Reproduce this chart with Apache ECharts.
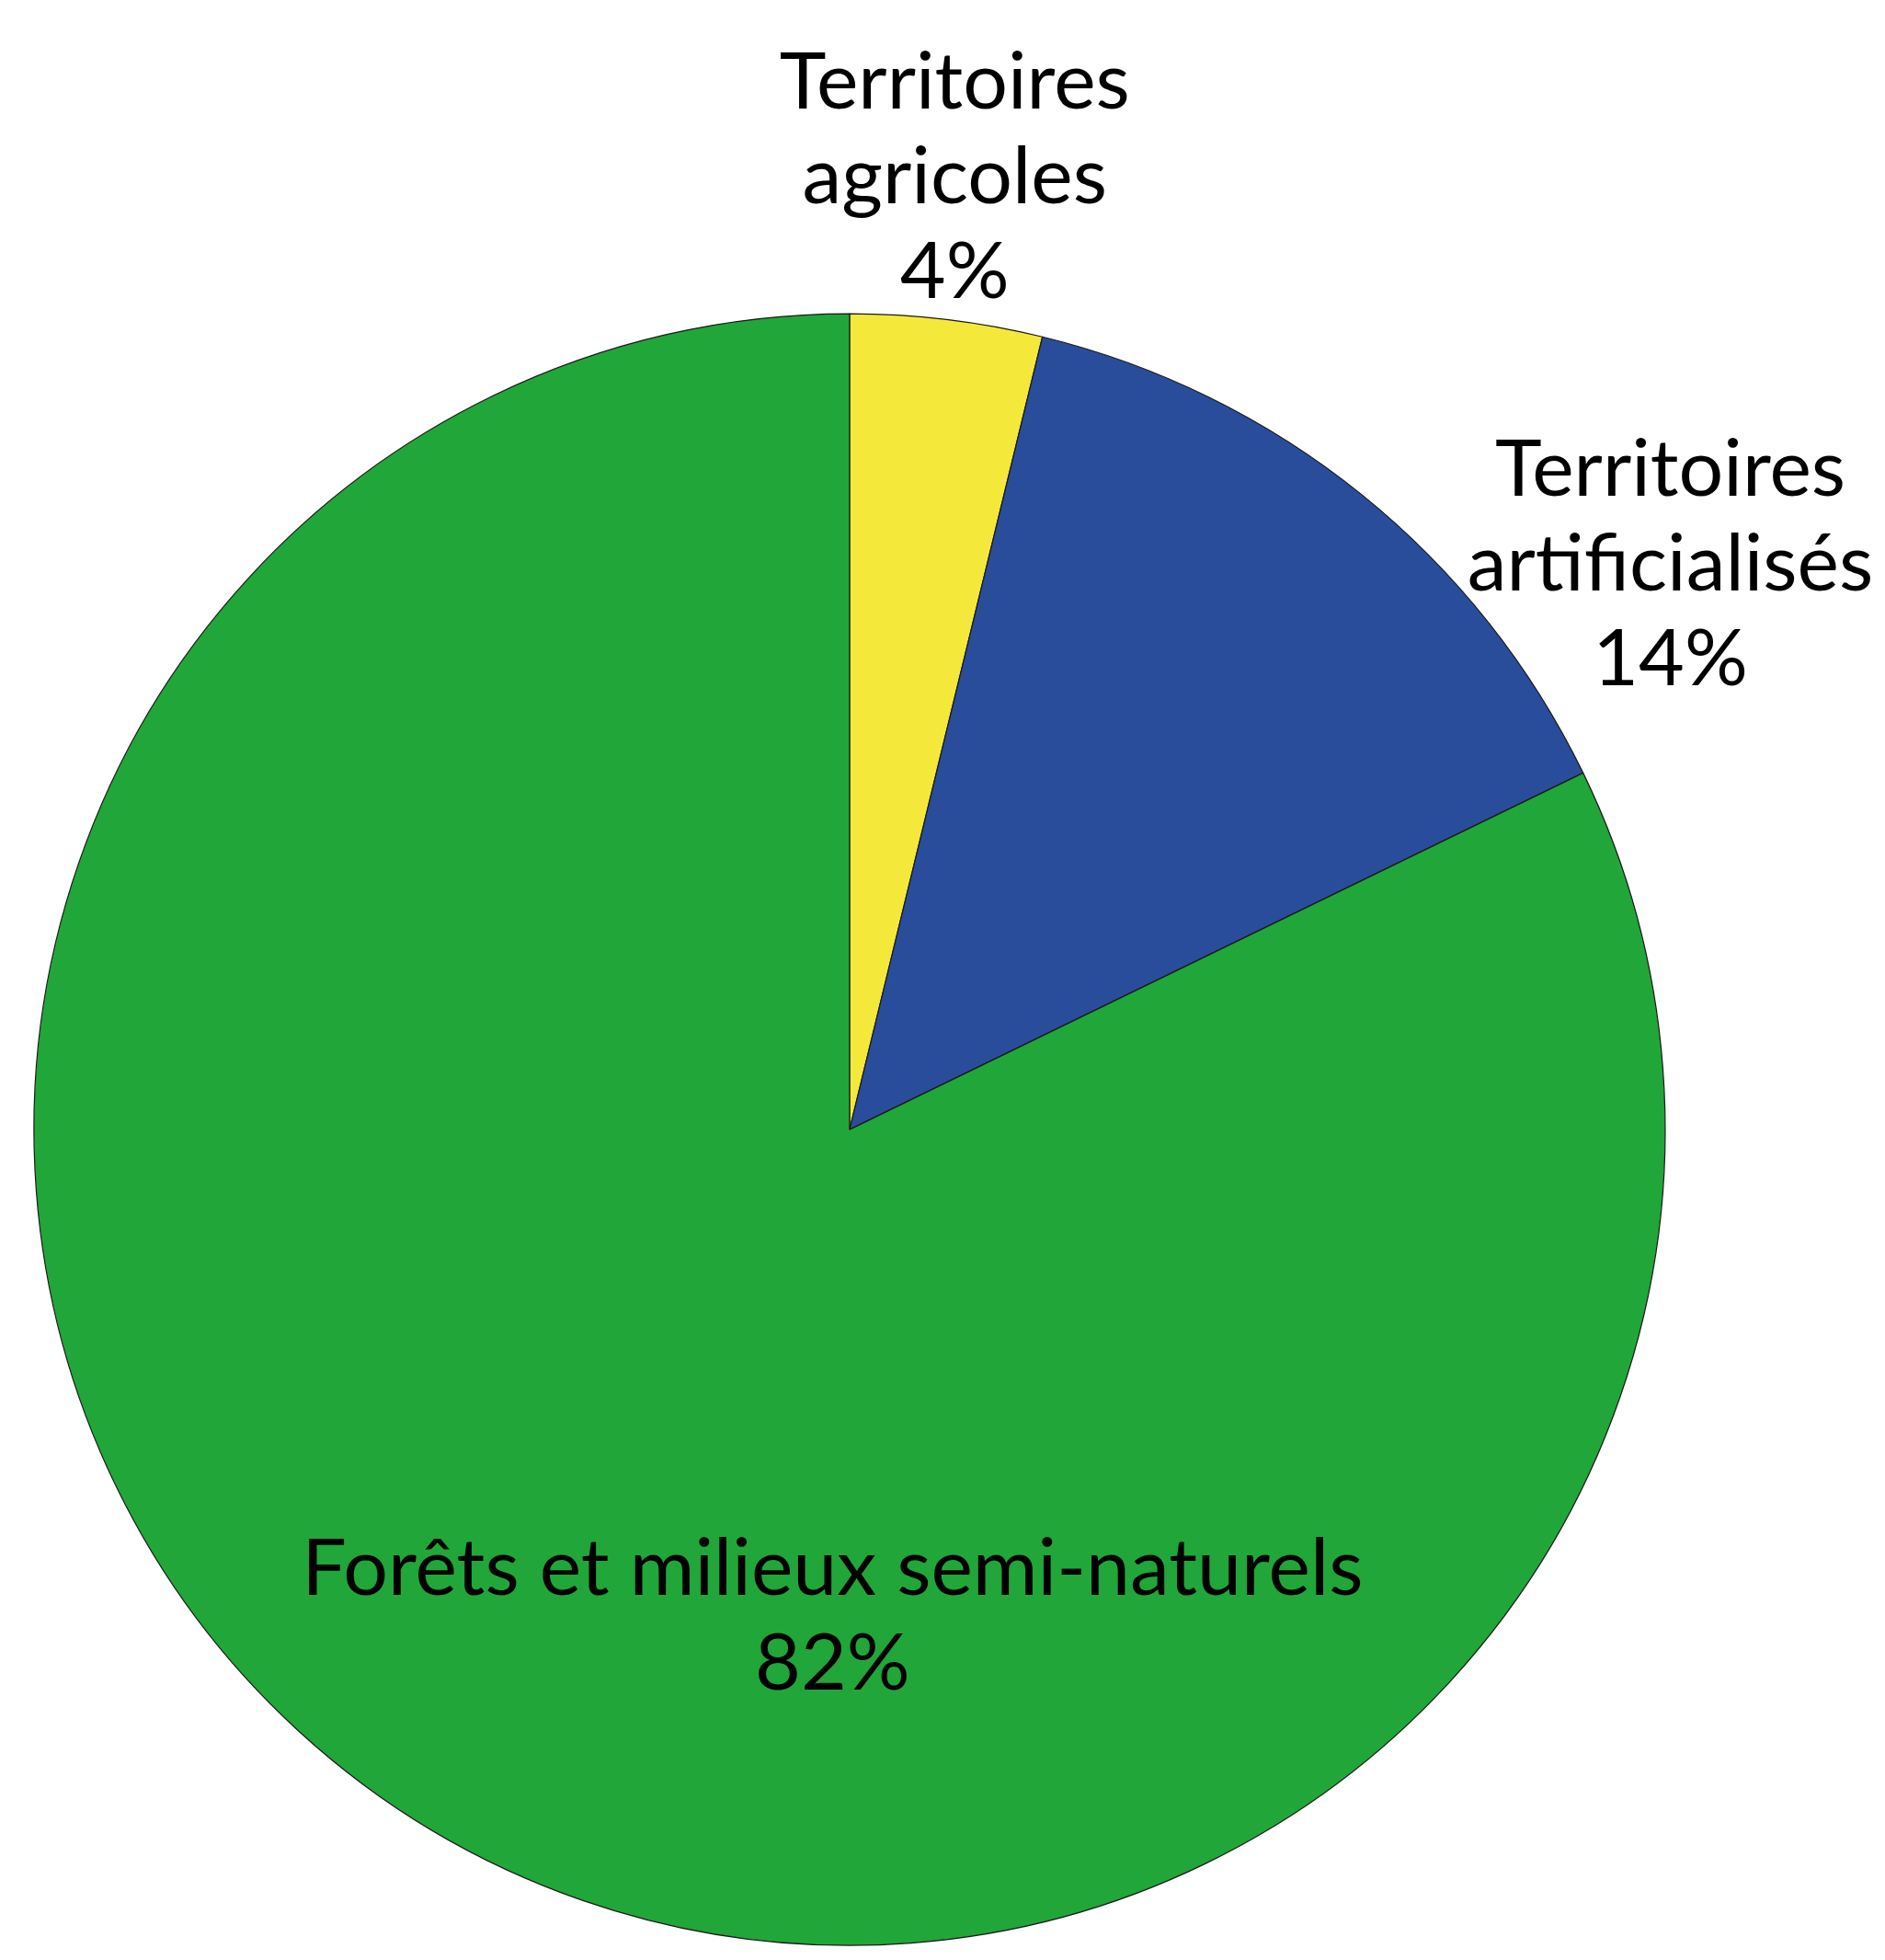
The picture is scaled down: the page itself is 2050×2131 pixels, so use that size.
<!DOCTYPE html>
<html>
<head>
<meta charset="utf-8">
<script src="https://cdn.jsdelivr.net/npm/echarts@6/dist/echarts.min.js"></script>
<style>
html,body{margin:0;padding:0;background:#fff;}
#chart{width:2050px;height:2131px;}
</style>
</head>
<body>
<div id="chart"></div>
<script>
// Data
const categories = ['Territoires agricoles', 'Territoires artificialisés', 'Forêts et milieux semi-naturels'];
const labelTexts = ['Territoires\nagricoles', 'Territoires\nartificialisés', 'Forêts et milieux semi-naturels'];
const values = [3.8, 14.0, 82.2];
const colors = ['#F4E93B', '#2A4D9B', '#21A639'];

// Label placement (polar, relative to pie centre): angle from top clockwise (deg), distance as fraction of radius
const labelPolar = [[6.3, 1.174], [55.5, 1.221], [182, 0.598]];

const CX = 0.4507, CY = 0.5763, R = 887;

const chart = echarts.init(document.getElementById('chart'));
const W = 2050, H = 2131;

chart.setOption({
  backgroundColor: '#ffffff',
  animation: false,
  series: [{
    type: 'pie',
    center: [(CX * 100) + '%', (CY * 100) + '%'],
    radius: R,
    startAngle: 90,
    clockwise: true,
    avoidLabelOverlap: false,
    percentPrecision: 0,
    itemStyle: { borderColor: '#1a1a1a', borderWidth: 1.2 },
    label: {
      show: true,
      position: 'outside',
      color: '#000',
      fontFamily: 'Lato, "Noto Sans", sans-serif',
      fontSize: 86,
      lineHeight: 103,
      align: 'center',
      formatter: function (p) { return labelTexts[p.dataIndex] + '\n' + p.percent + '%'; }
    },
    labelLine: { show: false },
    emphasis: { disabled: true },
    labelLayout: function (params) {
      const lp = labelPolar[params.dataIndex];
      const a = lp[0] * Math.PI / 180;
      return {
        x: W * CX + Math.sin(a) * R * lp[1],
        y: H * CY - Math.cos(a) * R * lp[1],
        align: 'center',
        verticalAlign: 'middle'
      };
    },
    data: categories.map(function (c, i) {
      return { name: c, value: values[i], itemStyle: { color: colors[i] } };
    })
  }]
});
</script>
</body>
</html>
